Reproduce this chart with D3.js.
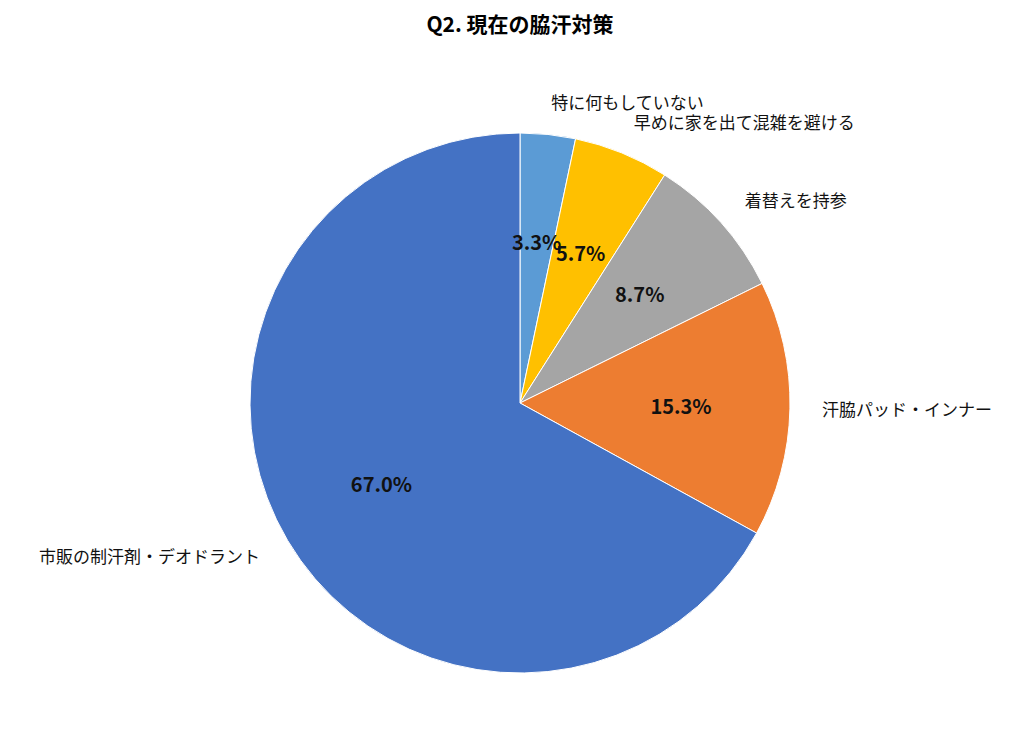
<!DOCTYPE html>
<html><head><meta charset="utf-8">
<script src="https://cdn.jsdelivr.net/npm/d3@7"></script>
<style>body{margin:0;background:#fff}</style></head>
<body><svg id="c" width="1024" height="752"></svg>
<script>
const categories=["特に何もしていない","早めに家を出て混雑を避ける","着替えを持参","汗脇パッド・インナー","市販の制汗剤・デオドラント"];
const values=[3.3,5.7,8.7,15.3,67.0];
const colors=["#5B9BD5","#FFC000","#A5A5A5","#ED7D31","#4472C4"];
const svg=d3.select("#c");
const cx=520,cy=403,r=270;
svg.append("text").attr("x",520).attr("y",32).attr("text-anchor","middle")
 .attr("font-family","Noto Sans CJK JP").attr("font-weight","bold").attr("font-size",21).text("Q2. 現在の脇汗対策");
const pie=d3.pie().sort(null).value(d=>d)(values);
const g=svg.append("g").attr("transform",`translate(${cx},${cy})`);
const arc=d3.arc().innerRadius(0).outerRadius(r);
g.selectAll("path").data(pie).join("path").attr("d",arc).attr("fill",(d,i)=>colors[i]).attr("stroke","#fff").attr("stroke-width",1);
const inner=d3.arc().innerRadius(161).outerRadius(161);
g.selectAll("text.p").data(pie).join("text").attr("class","p")
 .attr("transform",d=>`translate(${inner.centroid(d)})`).attr("text-anchor","middle").attr("dy","0.35em")
 .attr("font-family","Noto Sans CJK JP").attr("font-weight","bold").attr("font-size",20).attr("fill","#111")
 .text(d=>d.data.toFixed(1)+"%");
const outer=d3.arc().innerRadius(302).outerRadius(302);
g.selectAll("text.o").data(pie).join("text").attr("class","o")
 .attr("transform",d=>`translate(${outer.centroid(d)})`)
 .attr("text-anchor",d=>(d.startAngle+d.endAngle)/2>Math.PI?"end":"start").attr("dy","0.35em")
 .attr("font-family","Noto Sans CJK JP").attr("font-size",17).attr("fill","#111")
 .text((d,i)=>categories[i]);
</script></body></html>
